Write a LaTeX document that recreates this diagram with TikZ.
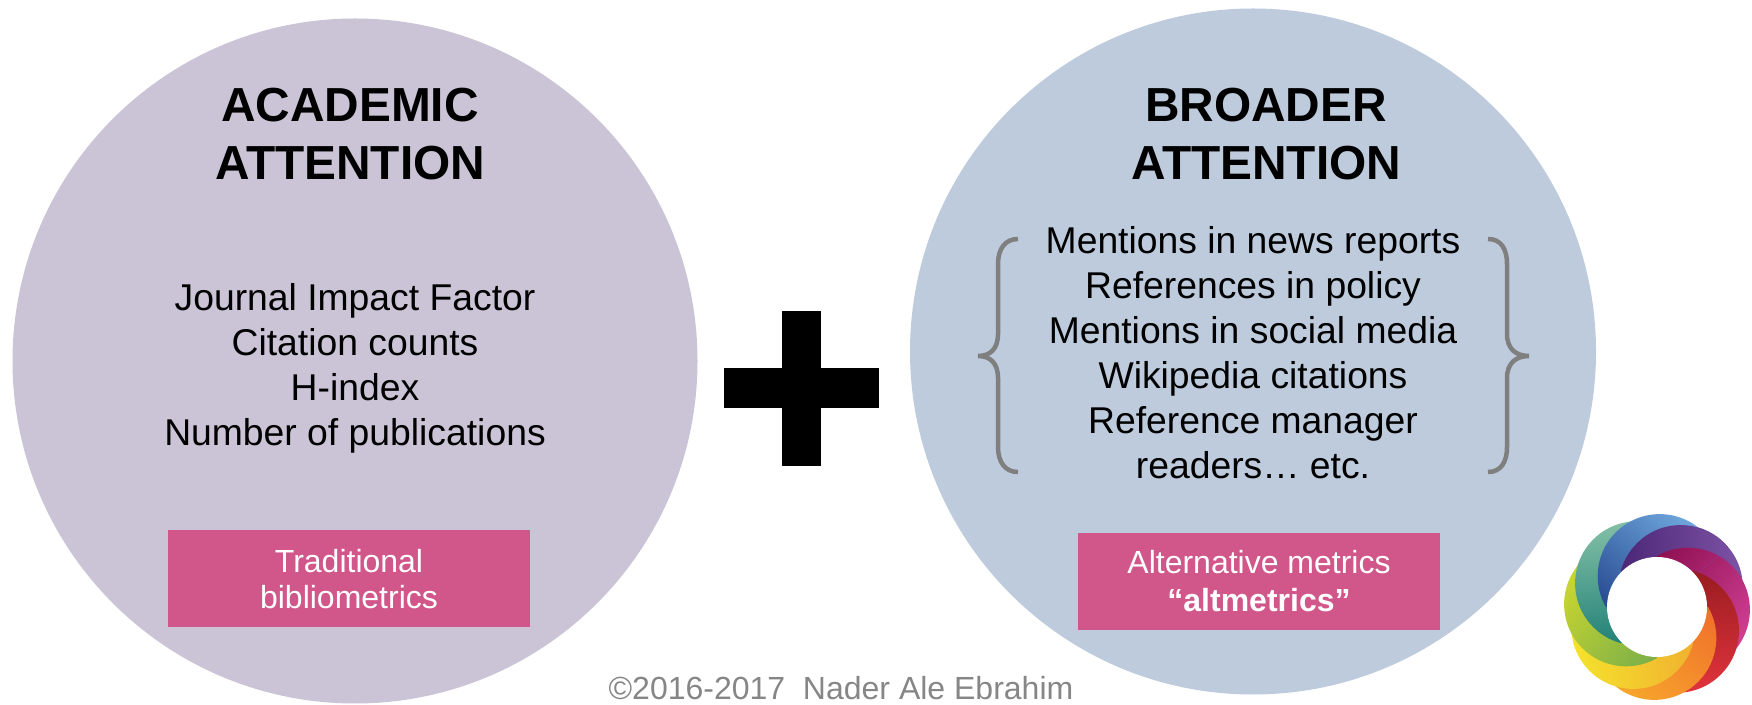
\documentclass[tikz,border=0pt]{standalone}
\usepackage{fontspec}
\setmainfont{Liberation Sans}
\definecolor{academicfill}{HTML}{CAC4D6}
\definecolor{broaderfill}{HTML}{BDCBDC}
\definecolor{metricfill}{HTML}{D1568A}
\definecolor{bracegray}{HTML}{7F7F7F}
\definecolor{notegray}{HTML}{868686}
\tikzset{
  attention/.style={circle, fill=#1, inner sep=0pt},
  heading/.style={align=center, font=\fontsize{47.8}{58}\selectfont\bfseries},
  itemlist/.style={align=center, font=\fontsize{37.3}{45}\selectfont},
  metricbox/.style={fill=metricfill, text=white, align=center, minimum width=362pt, minimum height=97pt, inner sep=0pt, font=\fontsize{32}{38}\selectfont},
  bracket/.style={draw=bracegray, line width=4.5pt}
}
% one swirl piece: peak angle, light colour, dark colour
\newcommand{\swirlpiece}[3]{%
  \begin{scope}
    \definecolor{lightpart}{HTML}{#2}
    \definecolor{darkpart}{HTML}{#3}
    \clip (0,0) -- (#1+95:130) arc (#1+95:#1-45:130) -- cycle;
    \shade[top color=lightpart, bottom color=darkpart, shading angle=#1-125] (#1:31) circle (62);
  \end{scope}}
\begin{document}
\begin{tikzpicture}[x=1pt, y=1pt]
    \useasboundingbox (0,0) rectangle (1752,704);
    % Draw the circles
    \node[attention=academicfill, minimum size=685pt] (academic) at (355,343) {};
    \node[attention=broaderfill, minimum size=686pt] (broader) at (1253,352.5) {};
    % Draw the headings and lists
    \node[heading] (academichead) at (350,569.5) {ACADEMIC\\ATTENTION};
    \node[heading] (broaderhead) at (1266,569.5) {BROADER\\ATTENTION};
    \node[itemlist] (academiclist) at (355,336) {Journal Impact Factor\\Citation counts\\H-index\\Number of publications};
    \node[itemlist] (broaderlist) at (1253,351) {Mentions in news reports\\References in policy\\Mentions in social media\\Wikipedia citations\\Reference manager\\readers… etc.};
    % Draw the boxes
    \node[metricbox, text depth=0pt] (tradbox) at (349,125.5) {\raisebox{-2pt}{Traditional}\\bibliometrics};
    \node[metricbox] (altbox) at (1259,122.5) {Alternative metrics\\\textbf{“altmetrics”}};
    % Draw the plus
    \fill[black] (782,238) rectangle (821,393);
    \fill[black] (724,296) rectangle (879,336);
    % Draw the braces
    \draw[bracket] (1018,465) .. controls (1005,465) and (998,455) .. (998,440) -- (998,370) .. controls (998,355) and (990,348) .. (978,348) .. controls (990,348) and (998,341) .. (998,326) -- (998,257) .. controls (998,242) and (1005,232) .. (1018,232);
    \draw[bracket] (1488,465) .. controls (1501,465) and (1507,455) .. (1507,440) -- (1507,370) .. controls (1507,355) and (1516,348) .. (1529,348) .. controls (1516,348) and (1507,341) .. (1507,326) -- (1507,257) .. controls (1507,242) and (1501,232) .. (1488,232);
    % Draw the note
    \node[text=notegray, font=\fontsize{32}{38}\selectfont, anchor=base] (note) at (841,5) {©2016-2017\ \ Nader Ale Ebrahim};
    % Draw the logo
    \begin{scope}[shift={(1657,97)}]
      \foreach \peak/\lightcol/\darkcol in {40/7C52A4/4A2575, -5/D03F93/8C0F50, -50/E0333C/961B1F, -95/F7A52C/EF6F2B, -140/F5E22C/F0B030, 175/CAD62F/78AE4A, 130/82BFA6/1F7F76, 85/6EA6DC/26488F}{
        \swirlpiece{\peak}{\lightcol}{\darkcol}
      }
      % the blue piece closes over the first ones, so put them back
      \begin{scope}
        \clip (0,0) -- (40:130) arc (40:135:130) -- cycle;
        \foreach \peak/\lightcol/\darkcol in {40/7C52A4/4A2575, -5/D03F93/8C0F50, -50/E0333C/961B1F}{
          \swirlpiece{\peak}{\lightcol}{\darkcol}
        }
      \end{scope}
      \fill[white] (0,0) circle (50);
    \end{scope}
\end{tikzpicture}
\end{document}
